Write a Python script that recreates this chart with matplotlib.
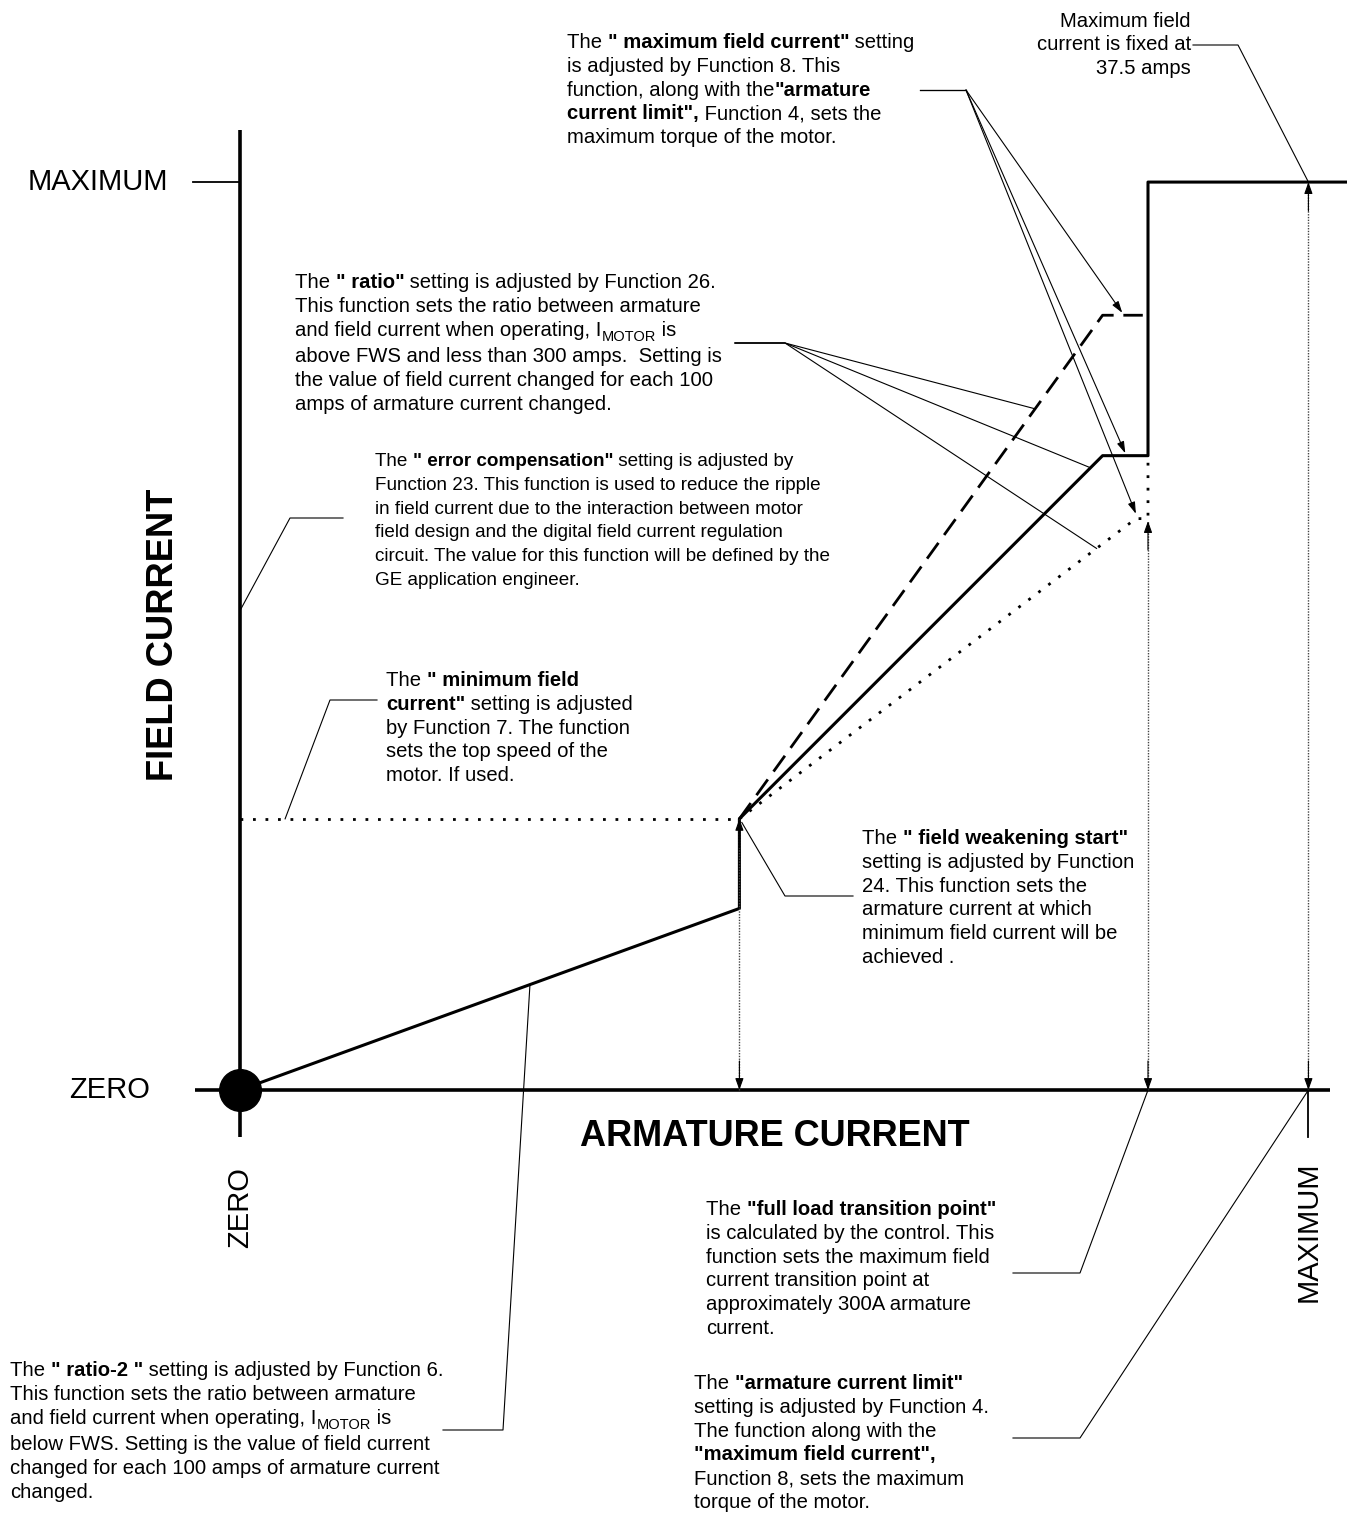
import numpy as np
import matplotlib
matplotlib.use('Agg')
import matplotlib.pyplot as plt
from matplotlib.transforms import Affine2D

W, H = 1347, 1513
plt.rcParams['font.family'] = ['Liberation Sans', 'DejaVu Sans']

# armature current (A) on x, field current (A) on y
arm_fws = 165      # field weakening start
arm_knee = 285
arm_full = 300     # full load transition point
arm_max = 353      # armature current limit
fld_low = 7.5      # end of ratio-2 slope
fld_min = 11.2     # minimum field current
fld_knee = 26.2
fld_dash = 32.0
fld_dot = 23.6
fld_max = 37.5     # maximum field current

solid_x = [0, arm_fws, arm_fws, arm_knee, arm_full, arm_full, 370]
solid_y = [0, fld_low, fld_min, fld_knee, fld_knee, fld_max, fld_max]
dash_x = [arm_fws, arm_knee, arm_full]
dash_y = [fld_min, fld_dash, fld_dash]
dot_x = [arm_fws, 296, arm_full, arm_full]
dot_y = [fld_min, fld_dot, fld_dot, fld_knee]

fig = plt.figure(figsize=(W / 100, H / 100), dpi=100)
ax = fig.add_axes([0, 0, 1, 1])
ax.set_xlim(-79.3, 365.75)
ax.set_ylim(-17.47, 45.02)
ax.axis('off')

# pixel transform (origin top-left) for the notes
px = Affine2D().scale(1, -1).translate(0, H)


def d2p(x, y):
    return px.inverted().transform(ax.transData.transform((x, y)))


# axes of the diagram
ax.plot([0, 0], [-1.95, 39.65], color='black', lw=2.6, solid_capstyle='butt')
ax.plot([-14.9, 360], [0, 0], color='black', lw=2.6, solid_capstyle='butt')
ax.plot([-15.5, 0], [fld_max, fld_max], color='black', lw=1.3)
ax.plot([arm_max, arm_max], [0, -1.95], color='black', lw=1.3)
ax.plot([0], [0], 'o', color='black', ms=30)

# curves
ax.plot(solid_x, solid_y, color='black', lw=2.2)
ax.plot(dash_x, dash_y, color='black', lw=2, dashes=(7, 3.5))
ax.plot(dot_x, dot_y, color='black', lw=2, ls=(0, (1, 3.5)))
ax.plot([0, arm_fws], [fld_min, fld_min], color='black', lw=2, ls=(0, (1, 3.5)))

# thin dotted double arrows
for xv, yv in [(arm_fws, fld_min), (arm_full, fld_dot - 0.1), (arm_max, fld_max)]:
    ax.plot([xv, xv], [0, yv], color='#444444', lw=1, ls=(0, (1, 1)))
    for y0, y1 in [(yv - 1.2, yv), (1.2, 0)]:
        ax.annotate('', xy=(xv, y1), xytext=(xv, y0),
                    arrowprops=dict(arrowstyle='-|>,head_length=0.7,head_width=0.25',
                                    color='black', lw=0.8, shrinkA=0, shrinkB=0))

# axis labels
ax.text(-23.8, fld_max, 'MAXIMUM', fontsize=21, ha='right', va='center')
ax.text(-29.7, 0, 'ZERO', fontsize=21, ha='right', va='center')
ax.text(0, -4.87, 'ZERO', fontsize=21, ha='center', va='center', rotation=90)
ax.text(arm_max, -5.87, 'MAXIMUM', fontsize=21, ha='center', va='center', rotation=90)
ax.text(-25.4, 18.8, 'FIELD CURRENT', fontsize=26.2, fontweight='bold',
        ha='center', va='center', rotation=90)
ax.text(176.8, -1.9, 'ARMATURE CURRENT', fontsize=26, fontweight='bold',
        ha='center', va='center')

renderer = fig.canvas.get_renderer()


def width(s, **kw):
    t = ax.text(0, 0, s + '|', transform=px, **kw)
    w = t.get_window_extent(renderer).width
    t.remove()
    t = ax.text(0, 0, '|', transform=px, **kw)
    w -= t.get_window_extent(renderer).width
    t.remove()
    return w


def block(x, y, lines, size=14.6, dy=23.8):
    yy = y
    for runs in lines:
        xx = x
        has_sub = False
        for txt, st in runs:
            kw = dict(fontsize=size, fontweight='bold' if st == 'b' else 'normal')
            off = 0
            if st == 's':
                kw['fontsize'] = size * 0.72
                off = 5
                has_sub = True
            ax.text(xx, yy + off, txt, transform=px, ha='left', va='baseline', **kw)
            xx += width(txt, **kw)
        yy += dy + (3 if has_sub else 0)


N, B, S = 'n', 'b', 's'

block(567, 48, [
    [('The ', N), ('" maximum field current"', B), (' setting', N)],
    [('is adjusted by Function 8. This', N)],
    [('function, along with the', N), ('"armature', B)],
    [('current limit",', B), (' Function 4, sets the', N)],
    [('maximum torque of the motor.', N)],
])

for i, ln in enumerate(['Maximum field', 'current is fixed at', '37.5 amps']):
    ax.text(1191, 27 + i * 23.5, ln, transform=px, fontsize=14.6,
            ha='right', va='baseline')

block(295, 288, [
    [('The ', N), ('" ratio"', B), (' setting is adjusted by Function 26.', N)],
    [('This function sets the ratio between armature', N)],
    [('and field current when operating, I', N), ('MOTOR', S), (' is', N)],
    [('above FWS and less than 300 amps.  Setting is', N)],
    [('the value of field current changed for each 100', N)],
    [('amps of armature current changed.', N)],
])

block(375, 466, [
    [('The ', N), ('" error compensation"', B), (' setting is adjusted by', N)],
    [('Function 23. This function is used to reduce the ripple', N)],
    [('in field current due to the interaction between motor', N)],
    [('field design and the digital field current regulation', N)],
    [('circuit. The value for this function will be defined by the', N)],
    [('GE application engineer.', N)],
], size=13.6)

block(386, 686, [
    [('The ', N), ('" minimum field', B)],
    [('current"', B), (' setting is adjusted', N)],
    [('by Function 7. The function', N)],
    [('sets the top speed of the', N)],
    [('motor. If used.', N)],
])

block(862, 844, [
    [('The ', N), ('" field weakening start"', B)],
    [('setting is adjusted by Function', N)],
    [('24. This function sets the', N)],
    [('armature current at which', N)],
    [('minimum field current will be', N)],
    [('achieved .', N)],
])

block(706, 1215, [
    [('The ', N), ('"full load transition point"', B)],
    [('is calculated by the control. This', N)],
    [('function sets the maximum field', N)],
    [('current transition point at', N)],
    [('approximately 300A armature', N)],
    [('current.', N)],
])

block(10, 1376, [
    [('The ', N), ('" ratio-2 "', B), (' setting is adjusted by Function 6.', N)],
    [('This function sets the ratio between armature', N)],
    [('and field current when operating, I', N), ('MOTOR', S), (' is', N)],
    [('below FWS. Setting is the value of field current', N)],
    [('changed for each 100 amps of armature current', N)],
    [('changed.', N)],
])

block(694, 1389, [
    [('The ', N), ('"armature current limit"', B)],
    [('setting is adjusted by Function 4.', N)],
    [('The function along with the', N)],
    [('"maximum field current",', B)],
    [('Function 8, sets the maximum', N)],
    [('torque of the motor.', N)],
])


# leader lines: elbow in pixels, targets from the data
def leader(pts, target, arrow=False):
    tx, ty = d2p(*target)
    xs = [p[0] for p in pts] + [tx]
    ys = [p[1] for p in pts] + [ty]
    if arrow:
        ax.plot(xs[:-1], ys[:-1], color='black', lw=0.8, transform=px)
        ax.annotate('', xy=(tx, ty), xytext=(xs[-2], ys[-2]), xycoords=px, textcoords=px,
                    arrowprops=dict(arrowstyle='-|>,head_length=0.7,head_width=0.22',
                                    color='black', lw=0.8, shrinkA=0, shrinkB=0))
    else:
        ax.plot(xs, ys, color='black', lw=0.8, transform=px)


leader([(1193, 45), (1238, 45)], (arm_max, fld_max))
leader([(920, 90), (966, 90)], (291.5, fld_dash + 0.1), arrow=True)
leader([(920, 90), (966, 90)], (292.5, fld_knee + 0.1), arrow=True)
leader([(920, 90), (966, 90)], (296, fld_dot + 0.2), arrow=True)
for xr, lx, ly in [(262.7, dash_x, dash_y), (281, [arm_fws, arm_knee], [fld_min, fld_knee]),
                   (283, dot_x[:2], dot_y[:2])]:
    leader([(735, 343), (785, 343)], (xr, np.interp(xr, lx, ly)))
leader([(343, 518), (290, 518)], (0, 19.8))
leader([(377, 700), (330, 700)], (14.9, fld_min))
leader([(853, 896), (785, 896)], (arm_fws + 0.8, fld_min - 0.15))
leader([(443, 1430), (503, 1430)], (95.8, np.interp(95.8, solid_x[:2], solid_y[:2])))
leader([(1013, 1273), (1080, 1273)], (arm_full, 0))
leader([(1013, 1438), (1080, 1438)], (arm_max, 0))

fig.savefig('out.png', dpi=100)
